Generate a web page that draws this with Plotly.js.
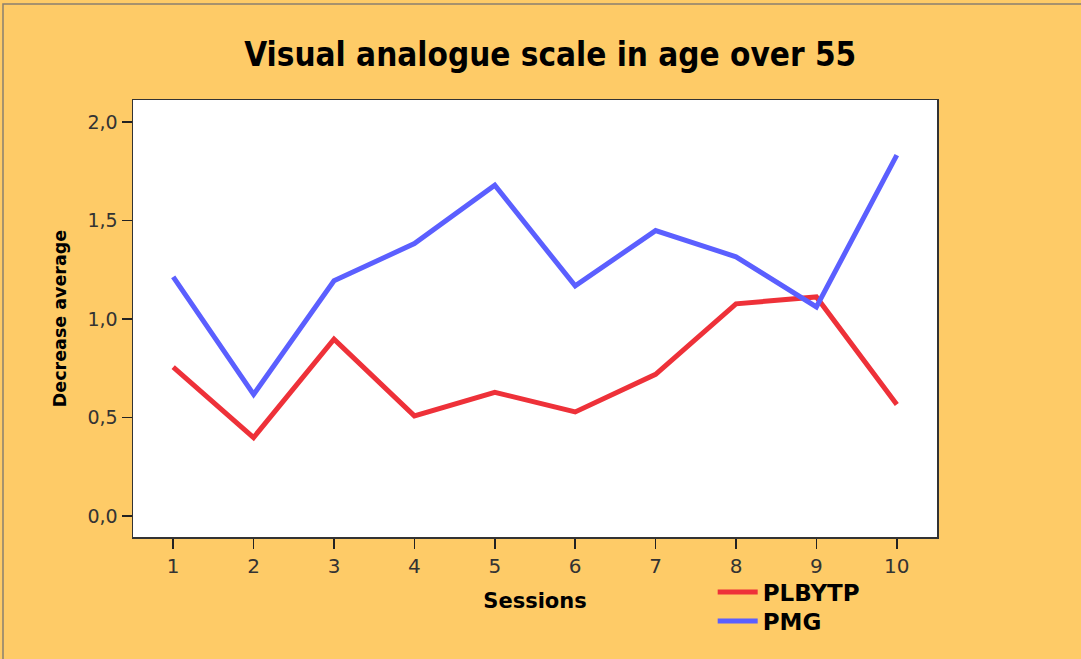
<!DOCTYPE html>
<html>
<head>
<meta charset="utf-8">
<script src="https://cdn.plot.ly/plotly-3.0.1.min.js"></script>
<style>html,body{margin:0;padding:0;background:#FECB67;}#chart{width:1081px;height:659px;}</style>
</head>
<body>
<div id="chart"></div>
<script>
const sessions = [1, 2, 3, 4, 5, 6, 7, 8, 9, 10];
const plbytp = [0.755, 0.398, 0.898, 0.508, 0.628, 0.528, 0.719, 1.077, 1.112, 0.566];
const pmg = [1.214, 0.617, 1.194, 1.383, 1.679, 1.168, 1.449, 1.316, 1.061, 1.832];
const seriesNames = ['PLBYTP', 'PMG'];
const yTicks = [0, 0.5, 1.0, 1.5, 2.0];

const traces = [
  {x: sessions, y: plbytp, name: seriesNames[0], type: 'scatter', mode: 'lines',
   line: {color: '#EE3139', width: 5}, legend: 'legend'},
  {x: sessions, y: pmg, name: seriesNames[1], type: 'scatter', mode: 'lines',
   line: {color: '#5B5FFF', width: 5}, legend: 'legend2'}
];

const legendFont = {family: 'DejaVu Sans', size: 23, color: '#000', weight: 'bold'};

const layout = {
  width: 1081, height: 659,
  paper_bgcolor: '#FECB67', plot_bgcolor: '#FFFFFF',
  separators: ', ',
  margin: {l: 133, r: 144, t: 100, b: 122},
  title: {text: 'Visual analogue scale in age over 55', x: 0.509, xanchor: 'center', y: 0.918, yanchor: 'middle',
    font: {family: 'DejaVu Sans Condensed', size: 33, color: '#000000', weight: 'bold'}},
  xaxis: {range: [0.5, 10.5], tickvals: sessions, ticks: 'outside', ticklen: 10, tickwidth: 1.5, tickcolor: '#222',
    showline: true, mirror: true, linecolor: '#333', linewidth: 1.5, showgrid: false, zeroline: false,
    tickfont: {family: 'DejaVu Sans', size: 20, color: '#333'},
    title: {text: '<b>Sessions</b>', standoff: 17, font: {family: 'DejaVu Sans', size: 21, color: '#000'}}},
  yaxis: {range: [-0.107, 2.112], tickvals: yTicks, tickformat: '.1f', ticks: 'outside', ticklen: 10, tickwidth: 1.5, tickcolor: '#222',
    showline: true, mirror: true, linecolor: '#333', linewidth: 1.5, showgrid: false, zeroline: false,
    tickfont: {family: 'DejaVu Sans', size: 19, color: '#333'},
    title: {text: '<b>Decrease average</b>', standoff: 16, font: {family: 'DejaVu Sans', size: 17.5, color: '#000'}}},
  legend: {x: 0.721, y: -0.0767, xanchor: 'left', yanchor: 'top', bgcolor: 'rgba(0,0,0,0)',
    font: legendFont, itemwidth: 40},
  legend2: {x: 0.721, y: -0.143, xanchor: 'left', yanchor: 'top', bgcolor: 'rgba(0,0,0,0)',
    font: legendFont, itemwidth: 40},
  showlegend: true,
  shapes: [
    {type: 'rect', xref: 'paper', yref: 'paper', x0: -0.1617, x1: 1.3, y0: -0.5, y1: 1.2197,
     line: {color: '#8A8070', width: 1.5}, fillcolor: 'rgba(0,0,0,0)', layer: 'below'}
  ]
};

Plotly.newPlot('chart', traces, layout, {displayModeBar: false, staticPlot: true});
</script>
</body>
</html>
